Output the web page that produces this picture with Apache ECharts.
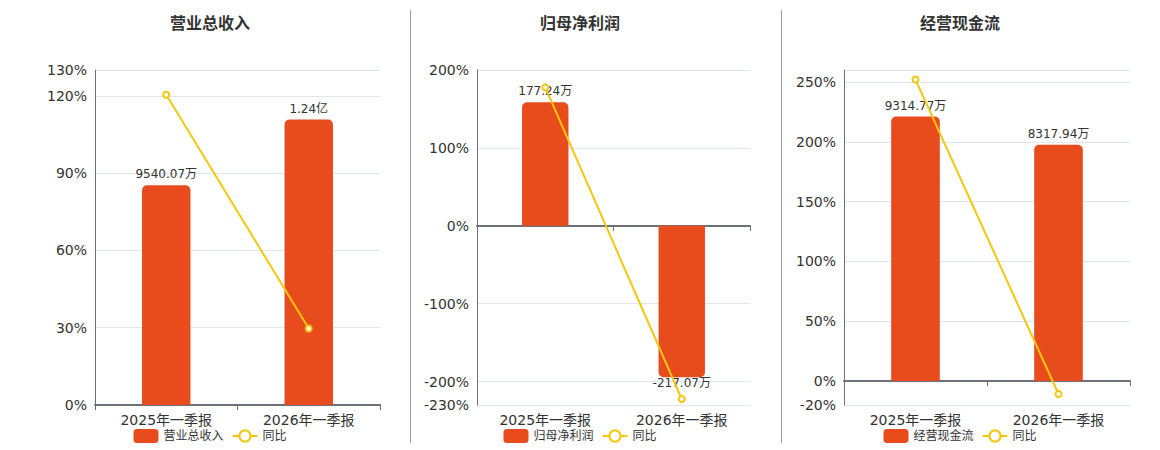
<!DOCTYPE html>
<html><head><meta charset="utf-8">
<script src="https://cdn.jsdelivr.net/npm/echarts@6/dist/echarts.min.js"></script>
<style>
html,body{margin:0;padding:0;background:#fff;width:1160px;height:450px;overflow:hidden;position:relative}
.c{position:absolute;top:0;height:450px}
.sep{position:absolute;top:10px;height:433px;width:1px;background:#a0a0a0}
</style></head><body>
<div id="c1" class="c" style="left:0;width:420px"></div>
<div id="c2" class="c" style="left:400px;width:360px"></div>
<div id="c3" class="c" style="left:780px;width:360px"></div>
<div class="sep" style="left:410px"></div>
<div class="sep" style="left:781px"></div>
<script>
// ---- data ----
const categories = ['2025年一季报', '2026年一季报'];
const titles = ['营业总收入', '归母净利润', '经营现金流'];
const lineName = '同比';
// bar values (万元)
const revenueValues = [9540.07, 12400];
const netProfitValues = [177.24, -217.07];
const cashFlowValues = [9314.77, 8317.94];
// year-over-year (%)
const revenueYoY = [120.4, 29.7];
const netProfitYoY = [177.7, -222.3];
const cashFlowYoY = [252, -10.8];
// percent axis ticks (grid lines) and tick labels
const revenueTicks = [0, 30, 60, 90, 120, 130];
const netProfitTicks = [-230, -200, -100, 0, 100, 200];
const cashFlowTicks = [-20, 0, 50, 100, 150, 200, 250, 260];
const revenueTickLabels = [0, 30, 60, 90, 120, 130];
const netProfitTickLabels = [-230, -200, -100, 0, 100, 200];
const cashFlowTickLabels = [-20, 0, 50, 100, 150, 200, 250];
// hidden bar-axis maxima
const barAxisMax = [14550, 223.5, 10953];

const FONT = '"DejaVu Sans", "Noto Sans CJK SC", sans-serif';
const BAR_COLOR = '#E84C1D';
const LINE_COLOR = '#F4C70F';
const grids = [
  {left: 95, right: 40, top: 70, bottom: 45},
  {left: 77, right: 10, top: 70, bottom: 45},
  {left: 64, right: 10, top: 70, bottom: 45}
];

function fmt(v) {
  return Math.abs(v) >= 10000 ? (v / 10000).toFixed(2) + '亿' : v.toFixed(2) + '万';
}

function build(i, values, yoy, ticks, tickLabels) {
  const pMin = ticks[0], pMax = ticks[ticks.length - 1];
  const bMax = barAxisMax[i];
  const bMin = bMax * pMin / pMax;
  return {
    textStyle: {fontFamily: FONT},
    title: {text: titles[i], left: 'center', top: 10,
      textStyle: {fontSize: 16, fontWeight: 'bold', color: '#333', fontFamily: FONT}},
    legend: {bottom: 2, left: 'center', itemWidth: 25, itemHeight: 14,
      textStyle: {fontSize: 12, color: '#333', fontFamily: FONT},
      data: [titles[i], lineName]},
    grid: Object.assign({containLabel: false, outerBoundsMode: 'none'}, grids[i]),
    xAxis: [
      {type: 'category', data: categories, position: 'bottom',
        axisLine: {show: false, onZero: false}, axisTick: {show: false},
        axisLabel: {color: '#333', fontSize: 14, margin: 8, fontFamily: FONT}},
      {type: 'category', data: categories, position: 'bottom',
        axisLine: {show: true, onZero: true, onZeroAxisIndex: 0, lineStyle: {color: '#6E7079', width: 2}},
        axisTick: {show: true, lineStyle: {color: '#6E7079'}},
        axisLabel: {show: false}}
    ],
    yAxis: [
      {type: 'value', min: pMin, max: pMax,
        axisLine: {show: true, lineStyle: {color: '#6E7079'}},
        axisTick: {show: false, customValues: ticks},
        axisLabel: {formatter: '{value}%', color: '#333', fontSize: 14, fontFamily: FONT,
          customValues: tickLabels},
        splitLine: {show: true, lineStyle: {color: '#E0E6F1'}}},
      {type: 'value', show: false, min: bMin, max: bMax, splitLine: {show: false}}
    ],
    series: [
      {type: 'bar', name: titles[i], xAxisIndex: 0, yAxisIndex: 1, barWidth: '34%',
        data: values.map(v => v >= 0
          ? {value: v, itemStyle: {borderRadius: [5, 5, 0, 0]}}
          : {value: v, itemStyle: {borderRadius: [0, 0, 5, 5]}, label: {distance: 0}}),
        itemStyle: {color: BAR_COLOR},
        label: {show: true, position: 'outside', color: '#333', fontSize: 12, fontFamily: FONT,
          formatter: p => fmt(p.value)}},
      {type: 'line', name: lineName, xAxisIndex: 0, yAxisIndex: 0, data: yoy, z: 3,
        symbol: 'emptyCircle', symbolSize: 6,
        lineStyle: {color: LINE_COLOR, width: 2}, itemStyle: {color: LINE_COLOR}}
    ]
  };
}

const sets = [
  [revenueValues, revenueYoY, revenueTicks, revenueTickLabels],
  [netProfitValues, netProfitYoY, netProfitTicks, netProfitTickLabels],
  [cashFlowValues, cashFlowYoY, cashFlowTicks, cashFlowTickLabels]
];
sets.forEach((s, i) => {
  const ch = echarts.init(document.getElementById('c' + (i + 1)), null, {renderer: 'svg'});
  ch.setOption(build(i, s[0], s[1], s[2], s[3]));
});
</script>
</body></html>
